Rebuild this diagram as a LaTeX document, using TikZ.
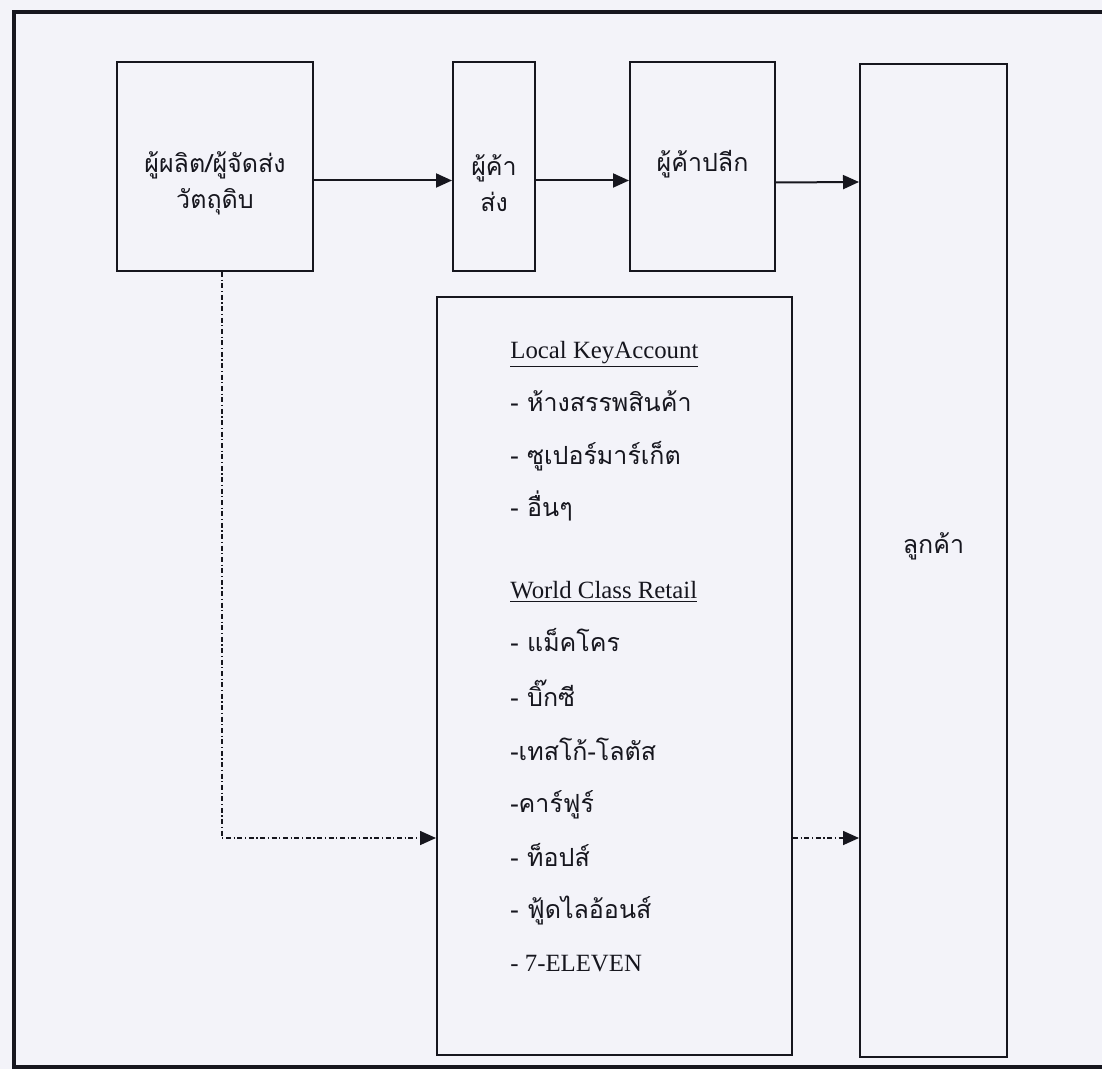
\documentclass[tikz,border=0pt]{standalone}
\usepackage{fontspec}
\setmainfont{Liberation Serif}
\newfontfamily\thai[Script=Thai]{Loma}
\usetikzlibrary{arrows.meta, positioning}
\definecolor{paper}{HTML}{F3F3F9}
\definecolor{ink}{HTML}{16161E}

\begin{document}
\begin{tikzpicture}[
    x=0.5pt, y=-0.5pt,
    every node/.style={font=\thai\fontsize{12.5}{15}\selectfont, text=ink},
    stage/.style={draw=ink, line width=1pt, inner sep=0pt},
    lbl/.style={align=center, inner sep=0pt},
    item/.style={anchor=west, inner sep=0pt, text height=9pt, text depth=3pt},
    head/.style={item, font=\rmfamily\fontsize{12.4}{15}\selectfont},
    flow/.style={-{Triangle[length=8pt, width=7pt]}, line width=1pt, ink},
    side/.style={-{Triangle[length=8pt, width=7pt]}, line width=0.8pt, ink,
                 dash pattern=on 2.5pt off 1.3pt on 0.6pt off 1.3pt}
  ]
    \useasboundingbox[fill=paper] (0,0) rectangle (1102,1069);
    \draw[ink, line width=2.3pt] (14,12) rectangle (1108,1067);

    \node[stage, minimum width=98pt, minimum height=104.5pt] (prod) at (215,166.5) {};
    \node[stage, minimum width=41pt, minimum height=104.5pt] (whole) at (494,166.5) {};
    \node[stage, minimum width=72.5pt, minimum height=104.5pt] (retail) at (702.5,166.5) {};
    \node[stage, minimum width=177.5pt, minimum height=379pt] (modern) at (614.5,676) {};
    \node[stage, minimum width=73.5pt, minimum height=496.5pt] (cust) at (933.5,560.5) {};

    \node[lbl] (prodtxt) at (215,183) {ผู้ผลิต/ผู้จัดส่ง\\[3pt]วัตถุดิบ};
    \node[lbl] (wholetxt) at (494,183) {ผู้ค้า\\[3pt]ส่ง};
    \node[lbl] (retailtxt) at (702.5,164) {ผู้ค้าปลีก};
    \node[lbl] (custtxt) at (933.5,546) {ลูกค้า};

    % modern trade channels
    \node[head] (lka) at (510,352) {\underline{Local KeyAccount}};
    \node[head] (wcr) at (510,592) {\underline{World Class Retail}};
    \foreach \y/\txt [count=\i] in {405/- ห้างสรรพสินค้า, 458/- ซูเปอร์มาร์เก็ต,
                                     510/- อื่นๆ, 645/- แม็คโคร, 700/- บิ๊กซี,
                                     754/-เทสโก้-โลตัส, 806/-คาร์ฟูร์, 860/- ท็อปส์,
                                     912/- ฟู้ดไลอ้อนส์} {
      \node[item] (shop\i) at (510,\y) {\txt};
    }
    \node[head] (seven) at (510,965) {- 7-ELEVEN};

    \draw[flow] ([yshift=-7pt]prod.east) -- ([yshift=-7pt]whole.west);
    \draw[flow] ([yshift=-7pt]whole.east) -- ([yshift=-7pt]retail.west);
    \draw[flow] ([yshift=-8pt]retail.east) -- (cust.west |- 0,182);

    \coordinate (bypass) at (0,838);
    \draw[side] ([xshift=3.5pt]prod.south) |- (modern.west |- bypass);
    \draw[side] (modern.east |- bypass) -- (cust.west |- bypass);
  \end{tikzpicture}
\end{document}
